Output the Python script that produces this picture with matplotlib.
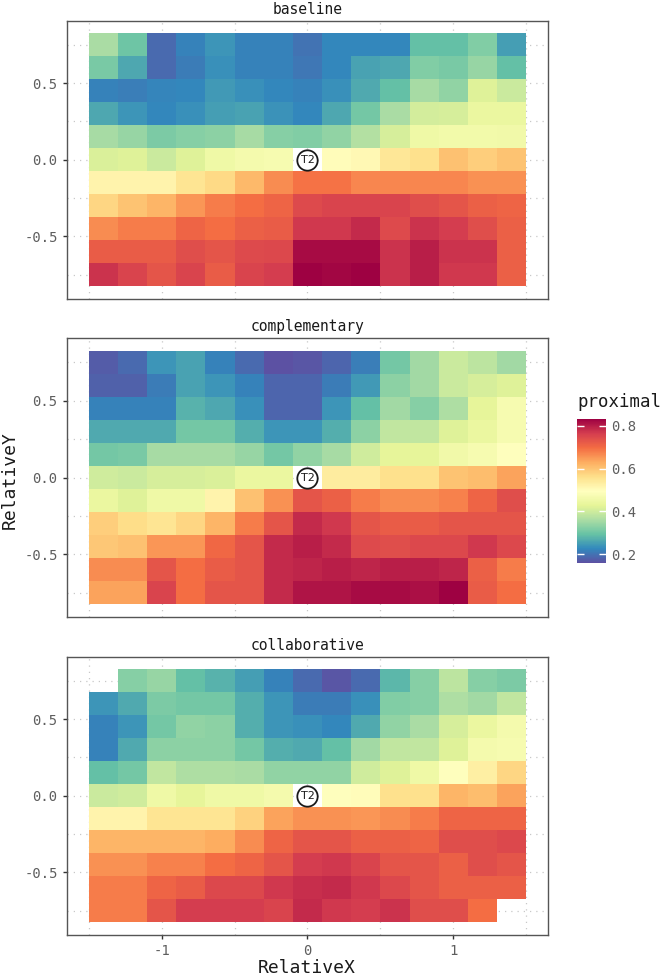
import numpy as np
import matplotlib.pyplot as plt
from matplotlib import colors

plt.rcParams.update({"font.family": "DejaVu Sans Mono",
                     "axes.unicode_minus": False})

# Tile centres (RelativeX / RelativeY) and facet names
x_centers = [-1.4, -1.2, -1.0, -0.8, -0.6, -0.4, -0.2, 0.0, 0.2, 0.4, 0.6, 0.8, 1.0, 1.2, 1.4]
y_centers = [0.75, 0.6, 0.45, 0.3, 0.15, 0.0, -0.15, -0.3, -0.45, -0.6, -0.75]
conditions = ["baseline", "complementary", "collaborative"]
nan = np.nan

# proximal values, rows from top (y=0.75) to bottom (y=-0.75)
baseline = [
    [0.36, 0.30, 0.19, 0.22, 0.24, 0.22, 0.22, 0.20, 0.225, 0.225, 0.225, 0.29, 0.29, 0.32, 0.25],
    [0.31, 0.26, 0.19, 0.21, 0.235, 0.22, 0.22, 0.205, 0.225, 0.255, 0.26, 0.32, 0.31, 0.34, 0.29],
    [0.22, 0.215, 0.222, 0.225, 0.245, 0.235, 0.225, 0.22, 0.235, 0.265, 0.29, 0.355, 0.335, 0.42, 0.395],
    [0.26, 0.24, 0.225, 0.235, 0.25, 0.255, 0.237, 0.225, 0.262, 0.305, 0.36, 0.405, 0.41, 0.44, 0.44],
    [0.355, 0.34, 0.315, 0.325, 0.33, 0.355, 0.325, 0.32, 0.335, 0.37, 0.41, 0.45, 0.46, 0.46, 0.455],
    [0.415, 0.42, 0.395, 0.42, 0.45, 0.465, 0.47, nan, 0.50, 0.51, 0.545, 0.56, 0.605, 0.585, 0.60],
    [0.52, 0.52, 0.52, 0.55, 0.57, 0.615, 0.665, 0.69, 0.69, 0.67, 0.67, 0.67, 0.67, 0.66, 0.66],
    [0.575, 0.60, 0.62, 0.655, 0.68, 0.695, 0.71, 0.745, 0.755, 0.755, 0.755, 0.74, 0.73, 0.715, 0.71],
    [0.665, 0.68, 0.68, 0.71, 0.695, 0.715, 0.72, 0.77, 0.77, 0.785, 0.745, 0.775, 0.765, 0.74, 0.715],
    [0.72, 0.72, 0.72, 0.74, 0.73, 0.745, 0.75, 0.82, 0.82, 0.82, 0.775, 0.80, 0.775, 0.775, 0.715],
    [0.775, 0.755, 0.73, 0.755, 0.72, 0.755, 0.765, 0.83, 0.825, 0.83, 0.775, 0.80, 0.77, 0.77, 0.715],
]

complementary = [
    [0.175, 0.19, 0.24, 0.255, 0.22, 0.19, 0.16, 0.165, 0.185, 0.215, 0.305, 0.35, 0.395, 0.38, 0.35],
    [0.18, 0.18, 0.21, 0.255, 0.24, 0.22, 0.185, 0.185, 0.21, 0.245, 0.33, 0.35, 0.395, 0.41, 0.42],
    [0.22, 0.22, 0.22, 0.275, 0.262, 0.235, 0.185, 0.185, 0.24, 0.29, 0.35, 0.325, 0.365, 0.43, 0.47],
    [0.265, 0.265, 0.265, 0.305, 0.305, 0.27, 0.24, 0.24, 0.27, 0.33, 0.385, 0.385, 0.42, 0.44, 0.47],
    [0.305, 0.31, 0.355, 0.355, 0.355, 0.34, 0.305, 0.335, 0.355, 0.40, 0.43, 0.43, 0.455, 0.47, 0.49],
    [0.40, 0.395, 0.41, 0.41, 0.415, 0.44, 0.44, nan, 0.535, 0.535, 0.56, 0.56, 0.60, 0.61, 0.64],
    [0.44, 0.42, 0.45, 0.45, 0.52, 0.605, 0.66, 0.73, 0.715, 0.68, 0.665, 0.665, 0.675, 0.71, 0.74],
    [0.585, 0.565, 0.55, 0.575, 0.62, 0.68, 0.73, 0.785, 0.77, 0.73, 0.72, 0.72, 0.73, 0.73, 0.73],
    [0.595, 0.605, 0.655, 0.655, 0.705, 0.73, 0.785, 0.80, 0.785, 0.745, 0.74, 0.75, 0.75, 0.77, 0.75],
    [0.665, 0.665, 0.73, 0.695, 0.72, 0.73, 0.785, 0.79, 0.80, 0.79, 0.80, 0.80, 0.79, 0.715, 0.68],
    [0.64, 0.64, 0.755, 0.695, 0.73, 0.73, 0.785, 0.81, 0.81, 0.82, 0.82, 0.815, 0.83, 0.72, 0.695],
]

collaborative = [
    [nan, 0.325, 0.34, 0.29, 0.275, 0.25, 0.22, 0.19, 0.165, 0.19, 0.28, 0.325, 0.38, 0.325, 0.315],
    [0.24, 0.265, 0.315, 0.305, 0.305, 0.27, 0.24, 0.21, 0.21, 0.235, 0.32, 0.325, 0.365, 0.35, 0.385],
    [0.22, 0.24, 0.305, 0.335, 0.33, 0.27, 0.24, 0.235, 0.225, 0.265, 0.335, 0.36, 0.41, 0.44, 0.465],
    [0.22, 0.265, 0.33, 0.33, 0.33, 0.305, 0.27, 0.265, 0.29, 0.35, 0.385, 0.385, 0.42, 0.465, 0.47],
    [0.29, 0.305, 0.385, 0.365, 0.365, 0.36, 0.335, 0.335, 0.335, 0.40, 0.42, 0.45, 0.49, 0.53, 0.575],
    [0.395, 0.40, 0.45, 0.43, 0.45, 0.45, 0.465, nan, 0.49, 0.50, 0.56, 0.56, 0.62, 0.61, 0.64],
    [0.52, 0.52, 0.55, 0.55, 0.55, 0.58, 0.64, 0.66, 0.66, 0.655, 0.665, 0.68, 0.71, 0.71, 0.71],
    [0.62, 0.62, 0.62, 0.62, 0.63, 0.665, 0.71, 0.73, 0.73, 0.715, 0.715, 0.71, 0.74, 0.74, 0.75],
    [0.66, 0.66, 0.675, 0.675, 0.695, 0.71, 0.73, 0.765, 0.77, 0.755, 0.73, 0.73, 0.715, 0.74, 0.73],
    [0.68, 0.68, 0.71, 0.72, 0.75, 0.75, 0.77, 0.78, 0.785, 0.77, 0.75, 0.73, 0.715, 0.715, 0.715],
    [0.68, 0.68, 0.73, 0.765, 0.765, 0.765, 0.755, 0.785, 0.77, 0.765, 0.775, 0.74, 0.74, 0.695, nan],
]

panels = [baseline, complementary, collaborative]

# Target marker
target_x, target_y = 0.0, 0.0
target_label = "T2"

cmap = plt.get_cmap("Spectral_r")
norm = colors.Normalize(vmin=0.157, vmax=0.832)

fig = plt.figure(figsize=(6.63, 9.77), dpi=100)

ax_left, ax_width, ax_height = 0.1006, 0.7264, 0.2849
bottoms = [0.694, 0.3688, 0.043]

grid_kw = dict(color="#c8c8c8", linestyle=(0, (1, 4)), linewidth=0.9)

for k, (name, vals) in enumerate(zip(conditions, panels)):
    ax = fig.add_axes([ax_left, bottoms[k], ax_width, ax_height])
    Z = np.ma.masked_invalid(np.array(vals, dtype=float))
    mesh = ax.pcolormesh(x_centers, y_centers, Z, cmap=cmap, norm=norm,
                         shading="nearest", zorder=2)

    ax.set_xlim(-1.65, 1.65)
    ax.set_ylim(-0.9075, 0.9075)
    ax.set_xticks([-1, 0, 1])
    ax.set_xticks([-1.5, -0.5, 0.5, 1.5], minor=True)
    ax.set_yticks([-0.5, 0.0, 0.5])
    ax.set_yticklabels(["-0.5", "0.0", "0.5"])
    ax.set_yticks([-0.75, -0.25, 0.25, 0.75], minor=True)
    ax.grid(True, which="both", zorder=0, **grid_kw)
    ax.set_axisbelow(True)

    ax.tick_params(which="minor", length=0)
    ax.tick_params(which="major", length=3, width=1, color="#333333",
                   labelsize=10, labelcolor="#5e5e5e")
    if k < 2:
        ax.tick_params(axis="x", which="both", bottom=False, labelbottom=False)
    else:
        ax.set_xticklabels(["-1", "0", "1"])

    for sp in ax.spines.values():
        sp.set_color("#555555")
        sp.set_linewidth(1.0)

    ax.set_title(name, fontsize=10.5, color="#1a1a1a", pad=5)

    # target marker
    ax.scatter([target_x], [target_y], s=215, facecolor="white",
               edgecolor="#1a1a1a", linewidth=1.3, zorder=4)
    ax.text(target_x, target_y, target_label, ha="center", va="center",
            fontsize=8, family="DejaVu Sans", color="#1a1a1a", zorder=5)

# axis titles
fig.text(307 / 663, 1 - 968 / 977, "RelativeX", ha="center", va="center",
         fontsize=13, color="#1a1a1a")
fig.text(10 / 663, 1 - 480 / 977, "RelativeY", ha="center", va="center",
         rotation=90, fontsize=13, color="#1a1a1a")

# colour bar
cax = fig.add_axes([0.870, 0.4234, 0.0437, 0.1477])
cb = fig.colorbar(mesh, cax=cax)
cb.outline.set_visible(False)
cb.set_ticks([0.2, 0.4, 0.6, 0.8])
cb.ax.tick_params(color="white", direction="in", length=5, width=1,
                  labelsize=10, labelcolor="#5e5e5e", left=True)
fig.text(577 / 663, 1 - 402 / 977, "proximal", ha="left", va="center",
         fontsize=12.5, color="#1a1a1a")

fig.savefig("out.png", dpi=100)
